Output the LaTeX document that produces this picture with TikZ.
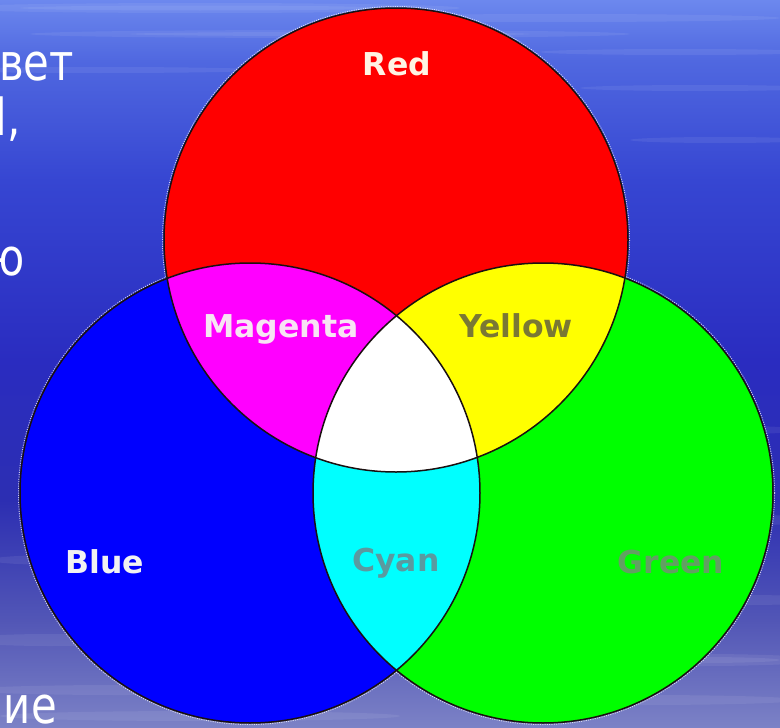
\documentclass[tikz,border=0pt]{standalone}
\usepackage{fontspec}
\newfontfamily\lblfont{DejaVu Sans}
\newfontfamily\slidefont[FakeStretch=0.82]{DejaVu Sans}
\definecolor{bgA}{HTML}{6C88EE}
\definecolor{bgB}{HTML}{5068E0}
\definecolor{bgC}{HTML}{3646D2}
\definecolor{bgD}{HTML}{2A2CC0}
\definecolor{bgE}{HTML}{2C2EB2}
\definecolor{bgF}{HTML}{5256B6}
\definecolor{bgG}{HTML}{7C82C6}
\definecolor{cred}{HTML}{FF0000}
\definecolor{cblue}{HTML}{0000FF}
\definecolor{cgreen}{HTML}{00FF00}
\definecolor{cmag}{HTML}{FF00FF}
\definecolor{cyel}{HTML}{FFFF00}
\definecolor{ccyan}{HTML}{00FFFF}
\definecolor{edge}{HTML}{1A1010}
\definecolor{tRed}{HTML}{FFF4E4}
\definecolor{tMag}{HTML}{F8E4F4}
\definecolor{tYel}{HTML}{7A7834}
\definecolor{tBlue}{HTML}{F2F2F2}
\definecolor{tCyan}{HTML}{5A9AA0}
\definecolor{tGreen}{HTML}{62A062}
\begin{document}
\begin{tikzpicture}[x=1pt,y=-1pt,
  lbl/.style={font=\lblfont\bfseries\fontsize{31.5}{36}\selectfont, inner sep=0pt, anchor=base},
  slidetext/.style={font=\slidefont\fontsize{51}{60}\selectfont, text=white, inner sep=0pt, anchor=base east},
  outline/.style={draw=edge, line width=1.5pt},
  halo/.style={draw=white, line width=1pt, dash pattern=on 1pt off 1.3pt, opacity=0.75},
  streak/.style={fill=white, opacity=0.07}]
\useasboundingbox (0,0) rectangle (780,728);
\clip (0,0) rectangle (780,728);
% background
\shade[top color=bgA, bottom color=bgB] (0,0) rectangle (780,60.5);
\shade[top color=bgB, bottom color=bgC] (0,60) rectangle (780,180.5);
\shade[top color=bgC, bottom color=bgD] (0,180) rectangle (780,360.5);
\shade[top color=bgD, bottom color=bgE] (0,360) rectangle (780,500.5);
\shade[top color=bgE, bottom color=bgF] (0,500) rectangle (780,620.5);
\shade[top color=bgF, bottom color=bgG] (0,620) rectangle (780,728);
% streaks
\fill[streak] (200,8) ellipse (260 and 5);
\fill[streak] (200,8) ellipse (180 and 2.5);
\fill[streak] (560,18) ellipse (220 and 4);
\fill[streak] (330,34) ellipse (300 and 4);
\fill[streak] (330,34) ellipse (200 and 2);
\fill[streak] (680,52) ellipse (140 and 3);
\fill[streak] (100,70) ellipse (160 and 3);
\fill[streak] (700,88) ellipse (120 and 3);
\fill[streak] (720,140) ellipse (90 and 3);
\fill[streak] (740,430) ellipse (60 and 4);
\fill[streak] (760,520) ellipse (50 and 5);
\fill[streak] (750,600) ellipse (70 and 5);
\fill[streak] (700,660) ellipse (120 and 6);
\fill[streak] (700,660) ellipse (80 and 3);
\fill[streak] (640,700) ellipse (160 and 5);
\fill[streak] (60,560) ellipse (70 and 5);
\fill[streak] (50,640) ellipse (90 and 6);
\fill[streak] (120,690) ellipse (150 and 5);
\fill[streak] (200,716) ellipse (200 and 5);
% slide text behind
\node[slidetext] (t1) at (74,80) {вет};
\node[slidetext] (t2) at (21,135) {l,};
\node[slidetext] (t3) at (25,275) {ю};
\node[slidetext] (t4) at (57,723) {ние};
% centres
\coordinate (R) at (396,240);
\coordinate (B) at (250,493);
\coordinate (G) at (543,493);
% halos
\path[halo] (R) circle (233.5);
\path[halo] (B) circle (231.5);
\path[halo] (G) circle (231.5);
% primary fills
\fill[cblue] (B) circle (230);
\fill[cgreen] (G) circle (230);
\fill[cred] (R) circle (232);
% overlaps
\begin{scope}\clip (R) circle (232); \fill[cmag] (B) circle (230);\end{scope}
\begin{scope}\clip (R) circle (232); \fill[cyel] (G) circle (230);\end{scope}
\begin{scope}\clip (B) circle (230); \fill[ccyan] (G) circle (230);\end{scope}
\begin{scope}\clip (R) circle (232); \clip (B) circle (230); \fill[white] (G) circle (230);\end{scope}
% outlines
\path[outline] (R) circle (232);
\path[outline] (B) circle (230);
\path[outline] (G) circle (230);
% labels
\node[lbl, text=tRed] (lred) at (397,75) {Red};
\node[lbl, text=tMag] (lmag) at (281,337) {Magenta};
\node[lbl, text=tYel] (lyel) at (516,337) {Yellow};
\node[lbl, text=tBlue] (lblue) at (105,573) {Blue};
\node[lbl, text=tCyan] (lcyan) at (396,571) {Cyan};
\node[lbl, text=tGreen] (lgreen) at (671,573) {Green};
\end{tikzpicture}
\end{document}
